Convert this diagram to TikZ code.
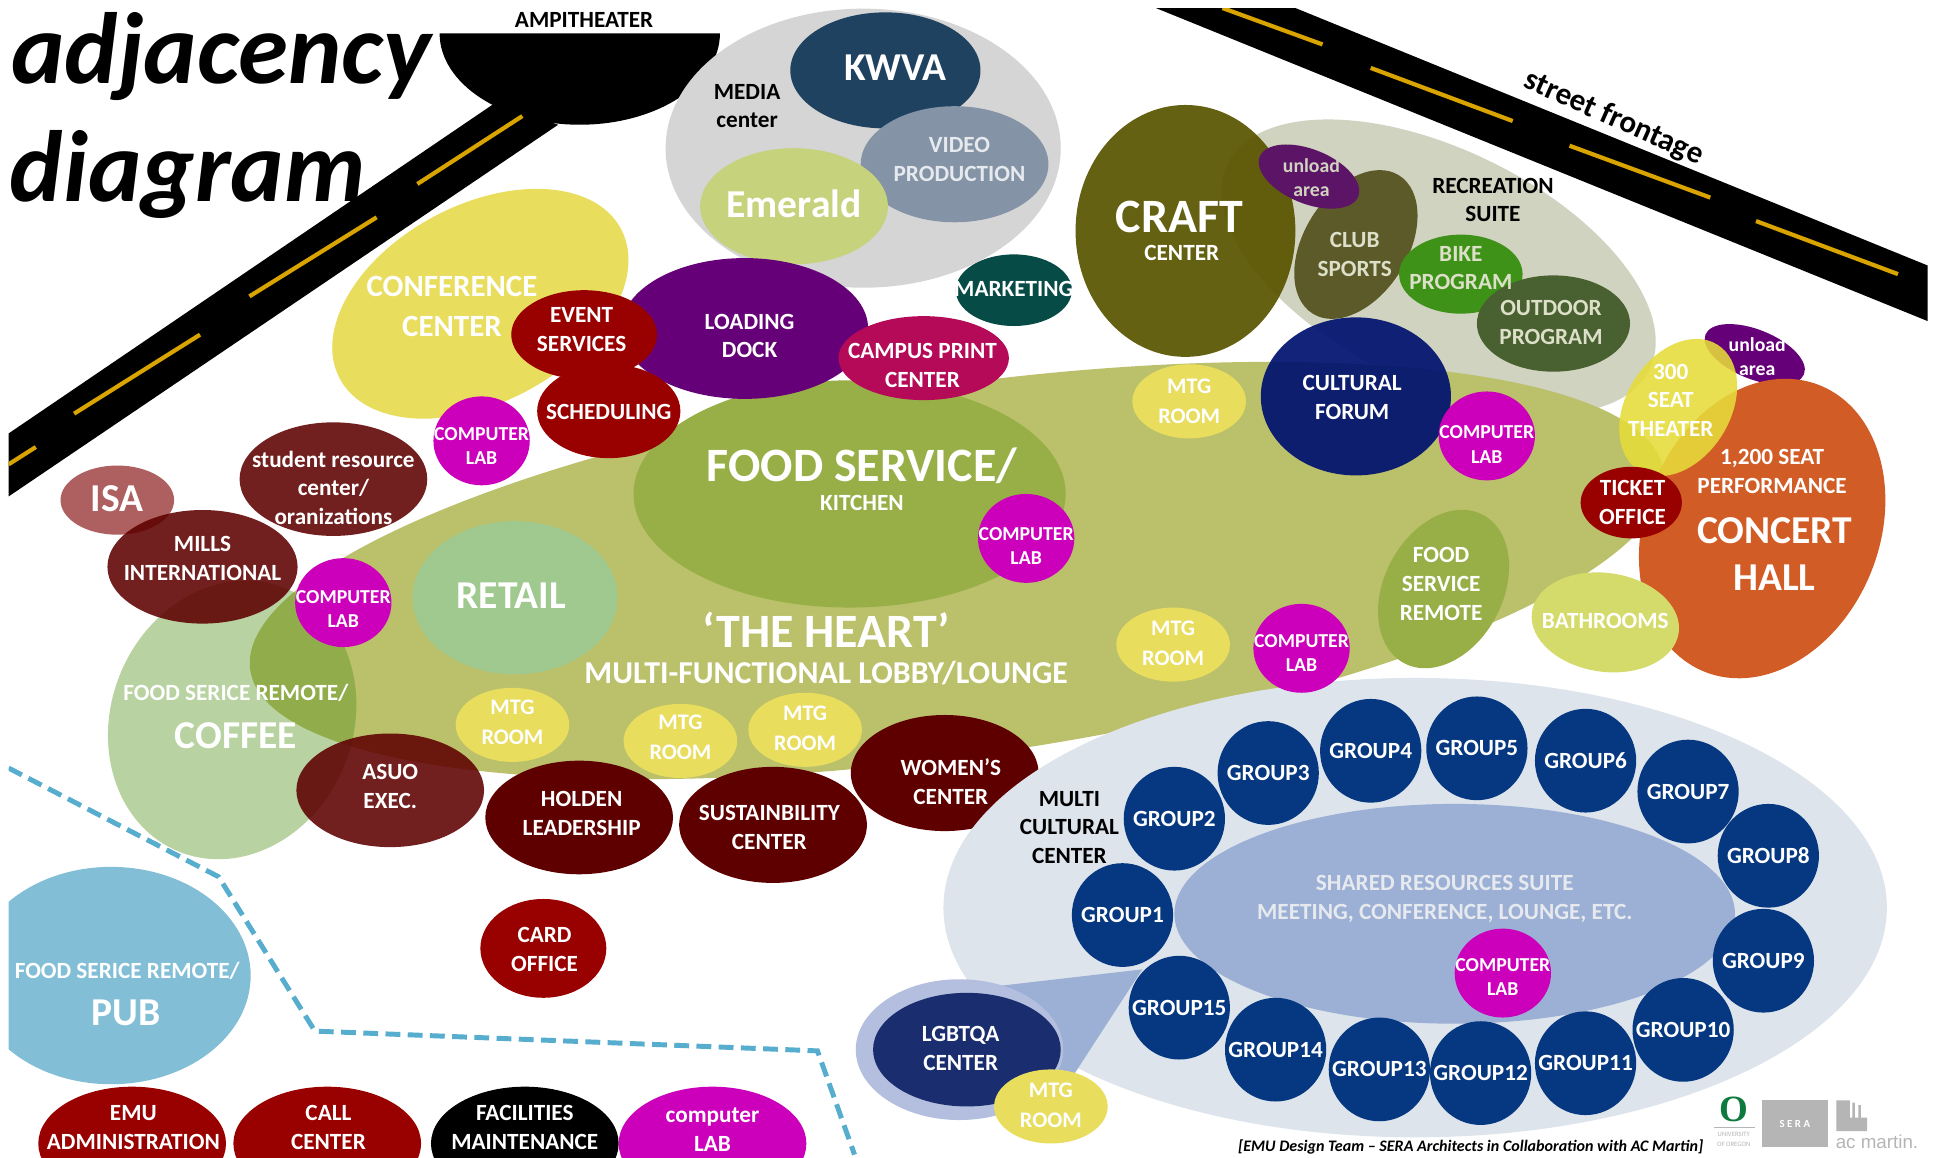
\documentclass[tikz,border=0pt]{standalone}
\usepackage{fontspec}
\setmainfont{Carlito}
\usetikzlibrary{shapes.geometric}
\definecolor{cRoad}{HTML}{000000}
\definecolor{cDash}{HTML}{D9A400}
\definecolor{cMedia}{HTML}{D5D5D5}
\definecolor{cKwva}{HTML}{1F4260}
\definecolor{cVideo}{HTML}{8494A6}
\definecolor{cEmerald}{HTML}{C6D27C}
\definecolor{cMarket}{HTML}{064B45}
\definecolor{cYellow}{HTML}{E9DD5E}
\definecolor{cPurple}{HTML}{660078}
\definecolor{cRed}{HTML}{990000}
\definecolor{cPrint}{HTML}{B50A57}
\definecolor{cLab}{HTML}{CC00BB}
\definecolor{cMaroon}{HTML}{5F0000}
\definecolor{cIsa}{HTML}{AE6060}
\definecolor{cHeart}{HTML}{BBC06B}
\definecolor{cFood}{HTML}{98AF47}
\definecolor{cRetail}{HTML}{9FC98F}
\definecolor{cCoffee}{HTML}{58941F}
\definecolor{cCraft}{HTML}{5A5500}
\definecolor{cRec}{HTML}{D0D3C0}
\definecolor{cClub}{HTML}{5C5A28}
\definecolor{cUnload}{HTML}{5C1466}
\definecolor{cBike}{HTML}{3F9218}
\definecolor{cOutdoor}{HTML}{496030}
\definecolor{cForum}{HTML}{00116F}
\definecolor{cTheater}{HTML}{E6DC3A}
\definecolor{cConcert}{HTML}{D25C25}
\definecolor{cBath}{HTML}{D5DB6A}
\definecolor{cMulti}{HTML}{DDE4EC}
\definecolor{cShared}{HTML}{9CB0D5}
\definecolor{cGroup}{HTML}{053880}
\definecolor{cHalo}{HTML}{B4BFDF}
\definecolor{cLgbt}{HTML}{1A2D6E}
\definecolor{cPub}{HTML}{82BFD6}
\definecolor{cBoundary}{HTML}{56ADCE}
\definecolor{cCream}{HTML}{DDE0C8}
\definecolor{cLogo}{HTML}{B5B5B5}
\definecolor{cOregon}{HTML}{0F7A3E}
\definecolor{cPale}{HTML}{E6E9EE}
\tikzset{
  x=0.5pt,y=-0.5pt,
  blob/.style={shape=ellipse,inner sep=0pt,outer sep=0pt,draw=none},
  lab/.style={inner sep=0pt,outer sep=0pt,align=center,text=white},
  txtS/.style={lab,font=\fontsize{8}{9.8}\selectfont\bfseries},
  txtM/.style={lab,font=\fontsize{9.4}{11.6}\selectfont\bfseries},
  txtR/.style={lab,font=\fontsize{9}{12}\selectfont\bfseries},
  txtL/.style={lab,font=\fontsize{12.9}{16}\selectfont\bfseries},
  txtXL/.style={lab,font=\fontsize{16}{19}\selectfont\bfseries},
  txtH/.style={lab,font=\fontsize{19.4}{24}\selectfont\bfseries},
  titleText/.style={lab,text=black,font=\fontsize{41}{48}\selectfont\bfseries\itshape},
  roadFill/.style={fill=cRoad},
  roadDash/.style={draw=cDash,line width=1.7pt},
}
% name, cx, cy, rx, ry, rotation, fill options (1 display unit = 0.5pt)
\newcommand\blob[7]{\node[blob,minimum width=#4pt,minimum height=#5pt,rotate=#6,#7] (#1) at (#2,#3) {};}
\newcommand\group[4]{\node[blob,fill=cGroup,minimum width=41pt,minimum height=42pt] (g#1) at (#2,#3) {};
  \node[txtM] (g#1t) at (#2,#3) {GROUP#4};}
\newcommand\lablab[4]{\blob{#1}{#2}{#3}{39}{36}{0}{fill=cLab}\node[txtS] (#1t) at (#2,#4) {COMPUTER\\LAB};}
\newcommand\mtg[4]{\blob{#1}{#2}{#3}{46}{30}{0}{fill=cYellow}\node[txtR] (#1t) at (#2,#4) {MTG\\ROOM};}
\begin{document}
\begin{tikzpicture}
\useasboundingbox (0,0) rectangle (1568.6,937);
\fill[white] (0,0) rectangle (1568.6,937);
\begin{scope}
\clip (7,6.5) rectangle (1561,937);
% roads
\fill[roadFill] (7,351) -- (400,84) -- (452,101) -- (7,402) -- cycle;
\fill[roadFill] (356.5,27) -- (583,27) arc[start angle=0,end angle=-180,x radius=56.75pt,y radius=37pt] -- cycle;
\draw[roadDash] (338,149) -- (423,94);
\draw[roadDash] (202,240) -- (305,176);
\draw[roadDash] (60,335) -- (162,271);
\draw[roadDash] (7,376) -- (29,362);
\fill[roadFill] (936,6.5) -- (1049,6.5) -- (1561,215) -- (1561,260) -- cycle;
\draw[roadDash] (990,6.5) -- (1071,36);
\draw[roadDash] (1110,55) -- (1225,98);
\draw[roadDash] (1271,118) -- (1385,160);
\draw[roadDash] (1422,179) -- (1537,222);
% boundary
\draw[cBoundary,line width=2pt,dash pattern=on 6pt off 3pt] (7,622) -- (177,710) -- (255,835) -- (662,851) -- (692,935);
% media
\blob{media}{699}{120}{160}{113}{0}{fill=cMedia}
\blob{kwva}{717}{57}{77}{47}{0}{fill=cKwva}
\blob{video}{773}{133}{76}{47}{0}{fill=cVideo}
\blob{emerald}{643}{167}{76}{47}{0}{fill=cEmerald}
\blob{marketing}{821}{235}{47}{29}{0}{fill=cMarket}
% conference cluster
\blob{conf}{389}{246}{129}{80}{28}{fill=cYellow}
% heart and friends
\blob{rec}{1165}{216}{190}{95}{-26}{fill=cRec}
\blob{heart}{775}{462}{578}{150}{8}{fill=cHeart}
\blob{food}{688}{400}{175}{92}{0}{fill=cFood}
\blob{retail}{417}{484}{83}{62}{0}{fill=cRetail}
\blob{coffee}{188}{583}{115}{98}{68}{fill=cCoffee,opacity=.42}
\blob{dock}{603}{266}{100}{57}{0}{fill=cPurple}
\blob{event}{473}{271}{59}{36}{0}{fill=cRed}
\blob{sched}{493}{333}{58}{38}{0}{fill=cRed}
\blob{print}{748}{290}{69}{34}{0}{fill=cPrint}
\blob{student}{270}{388}{76}{46}{0}{fill=cMaroon,opacity=.88}
\blob{isa}{95}{405}{46}{28}{0}{fill=cIsa}
\blob{mills}{164}{459}{77}{46}{0}{fill=cMaroon,opacity=.88}
\blob{asuo}{316}{640}{76}{46}{0}{fill=cMaroon,opacity=.88}
\blob{holden}{469}{662}{76}{46}{0}{fill=cMaroon}
\blob{sustain}{626}{668}{76}{47}{0}{fill=cMaroon}
\blob{women}{765}{626}{76}{47}{0}{fill=cMaroon}
\blob{card}{440}{768}{51}{40}{0}{fill=cRed}
\blob{pub}{90}{790}{113}{88}{0}{fill=cPub}
% recreation
\blob{craft}{960}{187}{89}{102}{0}{fill=cCraft,opacity=.93}
\blob{club}{1098}{198}{66}{42}{58}{fill=cClub}
\blob{unloadA}{1060}{143}{43}{22}{-22}{fill=cUnload}
\blob{bike}{1183}{222}{50}{32}{0}{fill=cBike}
\blob{outdoor}{1258}{262}{62}{39}{0}{fill=cOutdoor}
\blob{forum}{1098}{321}{77}{64}{0}{fill=cForum,opacity=.92}
\blob{remote}{1169}{477}{68}{48}{62}{fill=cFood}
% concert
\blob{unloadB}{1421}{287}{43}{20}{-22}{fill=cPurple}
\blob{concert}{1427}{428}{125}{95}{68}{fill=cConcert}
\blob{bath}{1300}{504}{60}{40}{-8}{fill=cBath}
\blob{theater}{1359}{330}{60}{42}{58}{fill=cTheater,opacity=.88}
\blob{ticket}{1321}{407}{41}{29}{0}{fill=cRed}
% multicultural
\blob{multi}{1146}{735}{382}{186}{0}{fill=cMulti}
\fill[cShared] (795,800) -- (925,785) -- (860,885) -- cycle;
\blob{shared}{1178}{740}{227}{89}{0}{fill=cShared}
\blob{halo}{777}{850}{84}{57}{0}{fill=cHalo}
\blob{lgbt}{783}{850}{76}{46}{0}{fill=cLgbt}
\group{1}{909}{741}{1}
\group{2}{951}{663}{2}
\group{3}{1027}{626}{3}
\group{4}{1110}{608}{4}
\group{5}{1196}{606}{5}
\group{6}{1284}{616}{6}
\group{7}{1367}{641}{7}
\group{8}{1432}{693}{8}
\group{9}{1428}{778}{9}
\group{10}{1363}{834}{10}
\group{11}{1284}{861}{11}
\group{12}{1199}{869}{12}
\group{13}{1117}{866}{13}
\group{14}{1033}{850}{14}
\group{15}{955}{816}{15}
% labs and rooms
\lablab{labA}{390}{357}{361}
\lablab{labB}{278}{488}{493}
\lablab{labC}{831}{436}{442}
\lablab{labD}{1054}{525}{529}
\lablab{labE}{1204}{353}{360}
\lablab{labF}{1217}{788}{791}
\mtg{mtgA}{415}{587}{585}
\mtg{mtgB}{551}{600}{597}
\mtg{mtgC}{652}{591}{590}
\mtg{mtgD}{950}{522}{521}
\mtg{mtgE}{963}{325}{325}
\mtg{mtgF}{851}{896}{895}
% bottom row
\blob{emu}{107}{926}{76}{46}{0}{fill=cRed}
\blob{call}{265}{926}{76}{46}{0}{fill=cRed}
\blob{fac}{425}{926}{76}{46}{0}{fill=black}
\blob{comp}{577}{926}{76}{46}{0}{fill=cLab}
% labels
\node[titleText] (titleA) at (179,46) {adjacency};
\node[titleText] (titleB) at (152,141) {diagram};
\node[txtM,text=black] (ampT) at (473,16) {AMPITHEATER};
\node[txtXL] (kwvaT) at (725,55) {KWVA};
\node[txtM,text=black] (mediaT) at (605,86) {MEDIA\\center};
\node[txtM,text=cPale] (videoT) at (777,129) {VIDEO\\PRODUCTION};
\node[txtXL] (emeraldT) at (643,165) {Emerald};
\node[txtM] (marketT) at (821,234) {MARKETING};
\node[lab,font=\fontsize{12.5}{16}\selectfont\bfseries] (confT) at (366,248) {CONFERENCE\\CENTER};
\node[txtM] (eventT) at (471,267) {EVENT\\SERVICES};
\node[txtM] (dockT) at (607,272) {LOADING\\DOCK};
\node[txtM] (schedT) at (493,334) {SCHEDULING};
\node[txtM] (printT) at (747,296) {CAMPUS PRINT\\CENTER};
\node[txtM] (studentT) at (270,395) {student resource\\center/\\oranizations};
\node[txtXL] (isaT) at (95,404) {ISA};
\node[txtM] (millsT) at (164,452) {MILLS\\INTERNATIONAL};
\node[txtXL] (retailT) at (414,482) {RETAIL};
\node[txtH] (foodT) at (698,377) {FOOD SERVICE/};
\node[txtM] (kitchenT) at (698,407) {KITCHEN};
\node[txtH] (heartT) at (669,510) {‘THE HEART’};
\node[txtL] (loungeT) at (669,545) {MULTI-FUNCTIONAL LOBBY/LOUNGE};
\node[txtM] (coffeeS) at (191,561) {FOOD SERICE REMOTE/};
\node[txtXL] (coffeeT) at (191,596) {COFFEE};
\node[txtM] (asuoT) at (316,637) {ASUO\\EXEC.};
\node[txtM] (holdenT) at (471,659) {HOLDEN\\LEADERSHIP};
\node[txtM] (sustainT) at (623,670) {SUSTAINBILITY\\CENTER};
\node[txtM] (womenT) at (770,633) {WOMEN’S\\CENTER};
\node[txtM,text=black] (multiT) at (866,670) {MULTI\\CULTURAL\\CENTER};
\node[txtH] (craftT) at (955,176) {CRAFT};
\node[txtM] (craftS) at (957,205) {CENTER};
\node[txtS,text=cRec] (unloadAT) at (1062,144) {unload\\area};
\node[txtS] (unloadBT) at (1423,289) {unload\\area};
\node[txtM,text=cCream] (clubT) at (1097,206) {CLUB\\SPORTS};
\node[txtM,text=black] (recT) at (1209,162) {RECREATION\\SUITE};
\node[txtM,text=cCream] (bikeT) at (1183,217) {BIKE\\PROGRAM};
\node[txtM,text=cCream] (outdoorT) at (1256,261) {OUTDOOR\\PROGRAM};
\node[txtM] (forumT) at (1095,322) {CULTURAL\\FORUM};
\node[txtM] (theaterT) at (1353,324) {300\\SEAT\\THEATER};
\node[txtM] (ticketT) at (1322,407) {TICKET\\OFFICE};
\node[txtM] (seatT) at (1435,382) {1,200 SEAT\\PERFORMANCE};
\node[txtXL] (concertT) at (1437,449) {CONCERT\\HALL};
\node[txtM] (remoteT) at (1167,473) {FOOD\\SERVICE\\REMOTE};
\node[txtM] (bathT) at (1300,503) {BATHROOMS};
\node[txtM,text=cPale] (sharedT) at (1170,728) {SHARED RESOURCES SUITE\\MEETING, CONFERENCE, LOUNGE, ETC.};
\node[txtM] (lgbtT) at (778,849) {LGBTQA\\CENTER};
\node[txtM] (cardT) at (441,769) {CARD\\OFFICE};
\node[txtM] (pubS) at (103,786) {FOOD SERICE REMOTE/};
\node[txtXL] (pubT) at (102,820) {PUB};
\node[txtM] (emuT) at (108,913) {EMU\\ADMINISTRATION};
\node[txtM] (callT) at (266,913) {CALL\\CENTER};
\node[txtM] (facT) at (425,913) {FACILITIES\\MAINTENANCE};
\node[txtM] (compT) at (577,915) {computer\\LAB};
\node[lab,text=black,rotate=-24,font=\fontsize{12.6}{15}\selectfont\bfseries] (street) at (1307,96) {street frontage};
% credits and logos
\node[lab,text=black,font=\fontsize{6.5}{7}\selectfont\bfseries\itshape] (credit) at (1191,929) {[EMU Design Team – SERA Architects in Collaboration with AC Martin]};
\node[lab,text=cOregon,font=\fontsize{15}{16}\fontspec{Liberation Serif Bold}\selectfont] (oregon) at (1404,898.6) {O};
\draw[cLogo,line width=.3pt] (1388,912.6) -- (1421,912.6);
\node[lab,text=cLogo,font=\fontsize{2.7}{4}\selectfont] (oregonT) at (1404,923) {UNIVERSITY\\OF OREGON};
\node[lab,fill=cLogo,minimum width=26.5pt,minimum height=19pt,font=\fontsize{4.4}{5}\selectfont\bfseries] (sera) at (1453.5,910) {S E R A};
\fill[cLogo] (1487,891) -- (1498,891) -- (1498,905) -- (1500,905) -- (1500,893) -- (1502,893) -- (1502,905) -- (1505,905) -- (1505,895) -- (1507,895) -- (1507,905) -- (1512,905) -- (1512,916) -- (1487,916) -- cycle;
\node[lab,text=cLogo,font=\fontsize{7.6}{9}\fontspec{Liberation Sans}\selectfont] (acm) at (1520,925) {ac martin.};
\end{scope}
\end{tikzpicture}
\end{document}
